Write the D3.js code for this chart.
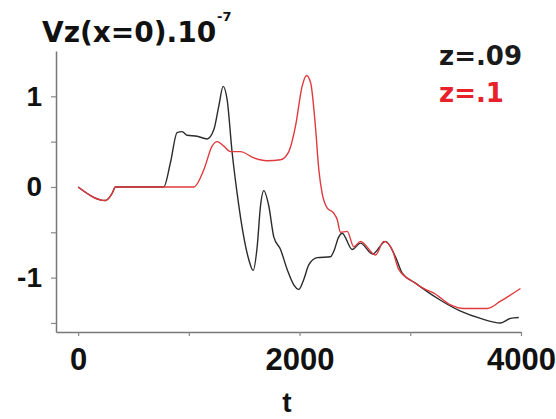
<!DOCTYPE html>
<html>
  <head>
    <script src="https://d3js.org/d3.v7.min.js"></script>
    <style>
      body { margin: 0; background: #fff; }
    </style>
  </head>
  <body>
    <div id="container"></div>

    <script type="text/javascript">
      // time axis (t) and Vz values for each curve
      var tBlack = [0, 247, 307, 337, 773, 834, 894, 939, 985, 1075, 1165, 1225, 1270, 1310, 1346,
                    1391, 1436, 1496, 1541, 1581, 1617, 1647, 1677, 1722, 1767, 1828, 1888, 1948,
                    1993, 2038, 2083, 2159, 2279, 2309, 2354, 2385, 2475, 2550, 2660, 2776, 2866,
                    2927, 3047, 3137, 3273, 3454, 3634, 3815, 3905, 3980];
      var vBlack = [0, -0.15, -0.07, 0, 0, 0.27, 0.60, 0.61, 0.57, 0.56, 0.53, 0.63, 0.89, 1.11, 0.96,
                    0.38, -0.07, -0.55, -0.80, -0.92, -0.66, -0.21, -0.04, -0.21, -0.55, -0.69, -0.91, -1.08,
                    -1.13, -1.02, -0.86, -0.78, -0.77, -0.71, -0.55, -0.51, -0.69, -0.62, -0.74, -0.60, -0.77,
                    -0.95, -1.06, -1.14, -1.25, -1.37, -1.45, -1.50, -1.45, -1.44];

      var tRed = [0, 247, 307, 337, 1045, 1135, 1210, 1256, 1316, 1376, 1466, 1587, 1707, 1828,
                  1903, 1963, 2023, 2063, 2100, 2143, 2174, 2204, 2249, 2309, 2340, 2369, 2430,
                  2490, 2550, 2686, 2761, 2836, 2896, 3017, 3137, 3212, 3363, 3483, 3695, 3815, 3995];
      var vRed = [0, -0.15, -0.07, 0, 0, 0.19, 0.45, 0.50, 0.45, 0.39, 0.39, 0.32, 0.29, 0.30,
                  0.39, 0.67, 1.11, 1.23, 1.15, 0.67, 0.19, -0.07, -0.23, -0.29, -0.36, -0.50, -0.49,
                  -0.66, -0.60, -0.75, -0.60, -0.69, -0.91, -1.04, -1.13, -1.17, -1.30, -1.34, -1.34, -1.26, -1.12];

      var xTicks = [0, 1000, 2000, 3000, 4000];
      var xLabels = [0, 2000, 4000];
      var yTicks = [-1.5, -1, -0.5, 0, 0.5, 1];
      var yLabels = [-1, 0, 1];

      var legendText = ["z=.09", "z=.1"];
      var colors = ["#2b2b2b", "#e03a3e"];

      var width = 556,
          height = 419;

      var svg = d3.select("#container").append("svg")
        .attr("width", width)
        .attr("height", height);

      var x = d3.scaleLinear().domain([-200, 4000]).range([56, 521]);
      var y = d3.scaleLinear().domain([-1.6, 1.5]).range([332, 51]);

      // axes
      var xAxis = d3.axisBottom(x)
        .tickValues(xTicks)
        .tickSize(4)
        .tickSizeOuter(0)
        .tickPadding(12)
        .tickFormat(function(d) { return xLabels.indexOf(d) >= 0 ? d : ""; });

      var yAxis = d3.axisLeft(y)
        .tickValues(yTicks)
        .tickSize(5)
        .tickSizeOuter(0)
        .tickPadding(9)
        .tickFormat(function(d) { return yLabels.indexOf(d) >= 0 ? d : ""; });

      var gx = svg.append("g")
        .attr("transform", "translate(0," + y.range()[0] + ")")
        .call(xAxis);
      var gy = svg.append("g")
        .attr("transform", "translate(" + x.range()[0] + ",0)")
        .call(yAxis);

      [gx, gy].forEach(function(g) {
        g.select(".domain").attr("stroke", "#777").attr("stroke-width", 1.5);
        g.selectAll(".tick line").attr("stroke", "#888").attr("stroke-width", 1.2);
        g.selectAll(".tick text")
          .attr("fill", "#111")
          .style("font-family", "'Liberation Sans', Arial, sans-serif")
          .style("font-weight", "bold");
      });
      gx.selectAll(".tick text").style("font-size", "31px");
      gy.selectAll(".tick text").style("font-size", "28px");

      // curves
      var line = d3.line()
        .x(function(d) { return x(d[0]); })
        .y(function(d) { return y(d[1]); })
        .curve(d3.curveMonotoneX);

      var series = [
        d3.zip(tBlack, vBlack),
        d3.zip(tRed, vRed)
      ];

      svg.selectAll("path.curve")
        .data(series)
        .enter().append("path")
          .attr("class", "curve")
          .attr("d", line)
          .attr("fill", "none")
          .attr("stroke", function(d, i) { return colors[i]; })
          .attr("stroke-width", 1.4)
          .attr("stroke-linejoin", "round");

      // title with superscript
      svg.append("text")
        .attr("x", 42)
        .attr("y", 42)
        .style("font-family", "'DejaVu Sans', sans-serif")
        .style("font-weight", "bold")
        .style("font-size", "28px")
        .attr("fill", "#111")
        .text("Vz(x=0).10");
      svg.append("text")
        .attr("x", 217)
        .attr("y", 21)
        .style("font-family", "'DejaVu Sans', sans-serif")
        .style("font-weight", "bold")
        .style("font-size", "13px")
        .attr("fill", "#111")
        .text("-7");

      // x axis label
      svg.append("text")
        .attr("x", 287)
        .attr("y", 412)
        .attr("text-anchor", "middle")
        .style("font-family", "'Liberation Sans', Arial, sans-serif")
        .style("font-weight", "bold")
        .style("font-size", "28px")
        .attr("fill", "#111")
        .text("t");

      // legend
      svg.selectAll("text.legend")
        .data(legendText)
        .enter().append("text")
          .attr("class", "legend")
          .attr("x", 439)
          .attr("y", function(d, i) { return 65 + i * 37; })
          .style("font-family", "'DejaVu Sans', sans-serif")
          .style("font-weight", "bold")
          .style("font-size", "26px")
          .attr("fill", function(d, i) { return i == 0 ? "#1a1a1a" : "#e8202a"; })
          .text(function(d) { return d; });
    </script>
  </body>
</html>
